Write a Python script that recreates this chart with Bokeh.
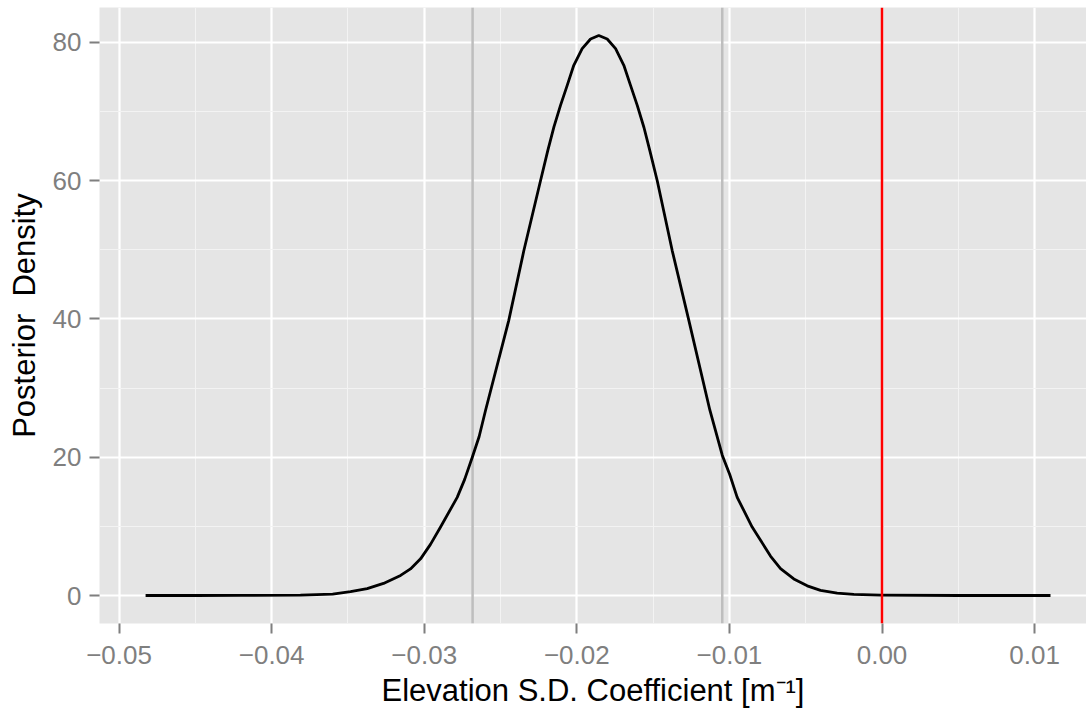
from bokeh.plotting import figure
from bokeh.models import FixedTicker, CustomJSTickFormatter, Span, Range1d, ColumnDataSource
from bokeh.embed import file_html
from bokeh.resources import INLINE

# ---- data ----
coef = [-0.04826, -0.04500, -0.04200, -0.03811, -0.03600, -0.03483, -0.03374, -0.03267,
        -0.03155, -0.03090, -0.03024, -0.02959, -0.02893, -0.02784, -0.02735, -0.02685,
        -0.02640, -0.02598, -0.02446, -0.02347, -0.02238, -0.02190, -0.02150, -0.02107,
        -0.02063, -0.02020, -0.01965, -0.01910, -0.01856, -0.01801, -0.01746, -0.01692,
        -0.01648, -0.01604, -0.01560, -0.01522, -0.01473, -0.01375, -0.01266, -0.01128,
        -0.01047, -0.00998, -0.00949, -0.00851, -0.00796, -0.00731, -0.00665, -0.00578,
        -0.00490, -0.00403, -0.00294, -0.00185, -0.00010, 0.00500, 0.01104]
density = [0.0, 0.0, 0.02, 0.05, 0.2, 0.55, 1.0, 1.75,
           2.9, 3.85, 5.3, 7.4, 9.9, 14.2, 16.8, 20.0,
           23.0, 26.8, 39.8, 49.9, 60.0, 64.4, 67.8, 70.9,
           73.8, 76.7, 79.1, 80.5, 81.0, 80.5, 79.1, 76.7,
           73.8, 70.9, 67.7, 64.4, 60.0, 49.9, 39.8, 26.8,
           20.3, 17.5, 14.2, 9.9, 8.0, 5.7, 3.9, 2.4,
           1.4, 0.75, 0.34, 0.15, 0.05, 0.0, 0.0]
interval_bounds = [-0.02683, -0.01047]
reference_value = 0.0

x_ticks = [-0.05, -0.04, -0.03, -0.02, -0.01, 0.0, 0.01]
x_labels = ["\u22120.05", "\u22120.04", "\u22120.03", "\u22120.02", "\u22120.01", "0.00", "0.01"]
x_minor = [-0.045, -0.035, -0.025, -0.015, -0.005, 0.005]
y_ticks = [0, 20, 40, 60, 80]
y_labels = ["0", "20", "40", "60", "80"]
y_minor = [10, 30, 50, 70]

x_title = "Elevation S.D. Coefficient [m\u207b\u00b9]"
y_title = "Posterior\u00a0 Density"

FONT = "Liberation Sans"

p = figure(width=1086, height=713, output_backend="svg", toolbar_location=None,
           x_range=Range1d(-0.05128, 0.0134), y_range=Range1d(-4.05, 85.06),
           min_border_left=99, min_border_right=0, min_border_top=7, min_border_bottom=90)
p.outline_line_color = None
p.background_fill_color = "#E5E5E5"
p.border_fill_color = "white"

p.xaxis.ticker = FixedTicker(ticks=x_ticks, minor_ticks=x_minor)
p.yaxis.ticker = FixedTicker(ticks=y_ticks, minor_ticks=y_minor)
fmt_code = """
let best = 0;
for (let i = 0; i < tvals.length; i++) {
  if (Math.abs(tvals[i] - tick) < Math.abs(tvals[best] - tick)) best = i;
}
return tlabels[best];
"""
p.xaxis.formatter = CustomJSTickFormatter(args=dict(tvals=x_ticks, tlabels=x_labels), code=fmt_code)
p.yaxis.formatter = CustomJSTickFormatter(args=dict(tvals=y_ticks, tlabels=y_labels), code=fmt_code)

for g in (p.xgrid, p.ygrid):
    g.grid_line_color = "white"
    g.grid_line_width = 2.2
    g.minor_grid_line_color = "#F3F3F3"
    g.minor_grid_line_width = 1

for ax in (p.xaxis, p.yaxis):
    ax.axis_line_color = None
    ax.major_tick_line_color = "#7F7F7F"
    ax.major_tick_line_width = 2
    ax.major_tick_out = 10
    ax.major_tick_in = 0
    ax.minor_tick_line_color = None
    ax.major_label_text_font = FONT
    ax.major_label_text_font_size = "26px"
    ax.major_label_text_color = "#7F7F7F"
    ax.axis_label_text_font = FONT
    ax.axis_label_text_font_size = "31px"
    ax.axis_label_text_color = "black"
    ax.axis_label_text_font_style = "normal"

p.xaxis.axis_label = x_title
p.yaxis.axis_label = y_title
p.xaxis.major_label_standoff = 12
p.xaxis.axis_label_standoff = 6
p.yaxis.major_label_standoff = 8
p.yaxis.axis_label_standoff = 8

for b in interval_bounds:
    p.add_layout(Span(location=b, dimension="height", line_color="#BEBEBE",
                      line_width=2.5, level="underlay"))

src = ColumnDataSource(dict(x=coef, y=density))
p.line("x", "y", source=src, line_color="black", line_width=2.8, line_join="round")

p.add_layout(Span(location=reference_value, dimension="height", line_color="#FF0000",
                  line_width=2.5))

open("out.html", "w").write(file_html(p, INLINE))
